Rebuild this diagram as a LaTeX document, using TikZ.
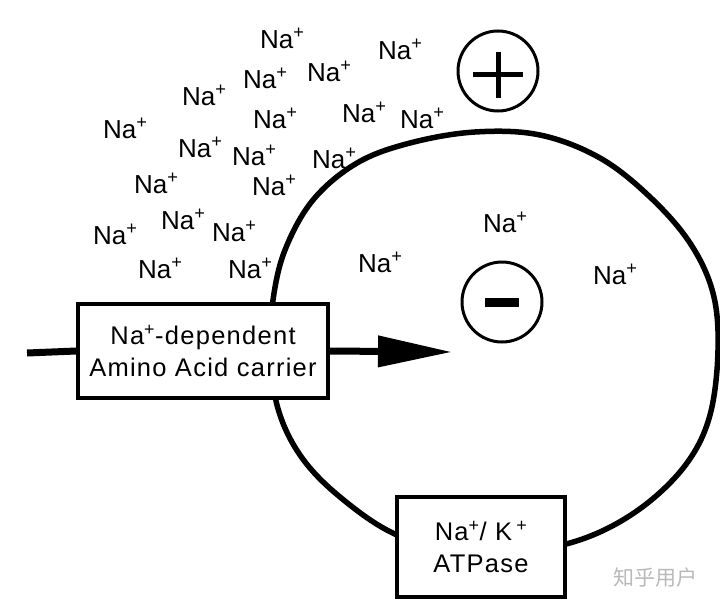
\documentclass[tikz,border=0pt]{standalone}
\usepackage{fontspec}
\setmainfont{Liberation Sans}
\newfontfamily\cjkfont{Noto Sans CJK SC}
\usetikzlibrary{arrows.meta}
\definecolor{wmgray}{RGB}{185,185,185}
\begin{document}
\begin{tikzpicture}[x=1pt,y=-1pt,
  ion/.style={anchor=base west, inner sep=0pt, font=\fontsize{26}{30}\selectfont},
  boxnode/.style={draw, line width=3.5pt, fill=white, align=center, inner sep=0pt,
    font=\fontsize{25.5}{32}\selectfont\addfontfeature{LetterSpace=5}},
  signcirc/.style={circle, draw, line width=3pt, minimum size=80pt, inner sep=0pt},
  membrane/.style={line width=5.5pt},
  shaft/.style={line width=7pt}]
\useasboundingbox (0,0) rectangle (720,605);
% cell membrane
\draw[membrane] plot[smooth cycle, tension=0.6] coordinates {
  (271,345) (277,405) (300,455) (340,497) (397,535) (465,552) (535,550)
  (593,535) (645,505) (687,463) (710,415) (718,350) (713,293) (690,243)
  (650,197) (600,158) (540,135) (475,132) (410,143) (357,163) (313,200)
  (285,250) (273,300)};
% Na+ ions outside
\node[ion] (n1) at (260,48) {Na\textsuperscript{+}};
\node[ion] (n2) at (378,59) {Na\textsuperscript{+}};
\node[ion] (n3) at (243,88) {Na\textsuperscript{+}};
\node[ion] (n4) at (307,81) {Na\textsuperscript{+}};
\node[ion] (n5) at (182,105) {Na\textsuperscript{+}};
\node[ion] (n6) at (253,128) {Na\textsuperscript{+}};
\node[ion] (n7) at (342,122) {Na\textsuperscript{+}};
\node[ion] (n8) at (400,128) {Na\textsuperscript{+}};
\node[ion] (n9) at (103,138) {Na\textsuperscript{+}};
\node[ion] (n10) at (178,157) {Na\textsuperscript{+}};
\node[ion] (n11) at (232,165) {Na\textsuperscript{+}};
\node[ion] (n12) at (312,168) {Na\textsuperscript{+}};
\node[ion] (n13) at (134,193) {Na\textsuperscript{+}};
\node[ion] (n14) at (252,195) {Na\textsuperscript{+}};
\node[ion] (n15) at (161,229) {Na\textsuperscript{+}};
\node[ion] (n16) at (212,241) {Na\textsuperscript{+}};
\node[ion] (n17) at (93,244) {Na\textsuperscript{+}};
\node[ion] (n18) at (138,278) {Na\textsuperscript{+}};
\node[ion] (n19) at (228,278) {Na\textsuperscript{+}};
% Na+ ions inside
\node[ion] (n20) at (358,272) {Na\textsuperscript{+}};
\node[ion] (n21) at (483,232) {Na\textsuperscript{+}};
\node[ion] (n22) at (593,284) {Na\textsuperscript{+}};
% charge signs
\node[signcirc] (plus) at (498,71) {};
\draw[line width=5pt] ([xshift=-25pt,yshift=-3pt]plus.center) -- ([xshift=25pt,yshift=-3pt]plus.center);
\draw[line width=5pt] ([yshift=19pt]plus.center) -- ([yshift=-27pt]plus.center);
\node[signcirc] (minus) at (502,302) {};
\draw[line width=9pt] ([xshift=-17pt]minus.center) -- ([xshift=17pt]minus.center);
% carrier
\node[boxnode, minimum width=250pt, minimum height=94pt] (carrier) at (203,351)
  {Na\textsuperscript{+}-dependent\\Amino Acid carrier};
\coordinate (inl) at (27,353);
\coordinate (tip) at (452,352);
\draw[shaft] (inl) -- (carrier.west);
\draw[shaft, -{Triangle[length=74pt,width=30pt]}] (carrier.east) -- (tip);
% pump
\node[boxnode, minimum width=168pt, minimum height=100pt] (atpase) at (481,547)
  {Na\textsuperscript{+}/ K\,\textsuperscript{+}\\ATPase};
% watermark
\node[font=\cjkfont\fontsize{21}{21}\selectfont, text=wmgray, inner sep=0pt] (wm) at (655,578) {知乎用户};
\end{tikzpicture}
\end{document}
